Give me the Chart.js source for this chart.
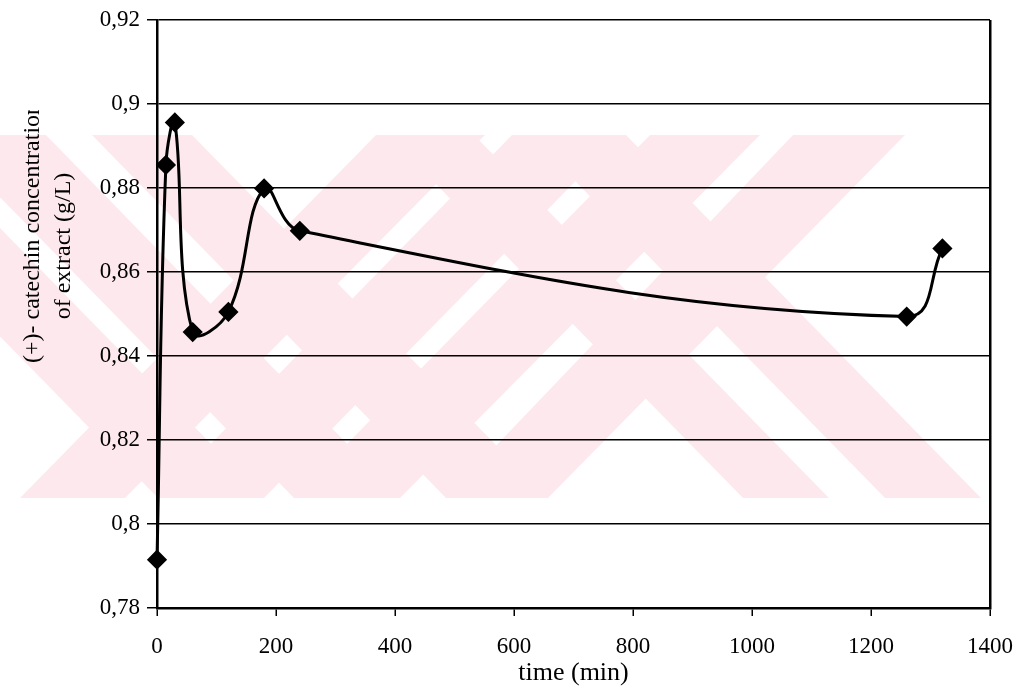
<!DOCTYPE html>
<html>
<head>
<meta charset="utf-8">
<script src="https://cdn.jsdelivr.net/npm/chart.js@4.4.0/dist/chart.umd.min.js"></script>
<style>
  html, body { margin: 0; padding: 0; background: #fff; }
  #wrap { width: 1021px; height: 688px; position: relative; }
</style>
</head>
<body>
<div id="wrap"><canvas id="chart" width="1021" height="688"></canvas></div>
<script>
// time (min) and (+)-catechin concentration (g/L)
const timeMin = [0, 15, 30, 60, 120, 180, 240, 1260, 1320];
const catechin = [0.7915, 0.8855, 0.8956, 0.8457, 0.8505, 0.8799, 0.8698, 0.8494, 0.8656];

const xTicks = [0, 200, 400, 600, 800, 1000, 1200, 1400];
const yTicks = [0.78, 0.8, 0.82, 0.84, 0.86, 0.88, 0.9, 0.92];

const yTitle = ["(+)- catechin concentration", "of extract (g/L)"];
const xTitle = "time (min)";

// pale pink watermark bands (page decoration): x of top-left, top-right at y 135, bottom-left, bottom-right at y 498
const wmTop = 135, wmBottom = 498;
const wmBands = [
  [376, 485, 20, 125],
  [512, 621, 158, 264],
  [650, 760, 294, 400],
  [793, 905, 446, 548],
  [-197, -91, 158, 264],
  [-61, 46, 294, 400],
  [92, 192, 446, 548],
  [388, 474, 743, 829],
  [530, 626, 885, 981],
];

const serif = "'Liberation Serif', 'Times New Roman', serif";

const watermark = {
  id: "watermark",
  beforeDraw(chart) {
    const ctx = chart.ctx;
    ctx.save();
    ctx.fillStyle = "#fde9ed";
    wmBands.forEach(([a, b, c, d]) => {
      ctx.beginPath();
      ctx.moveTo(a, wmTop);
      ctx.lineTo(b, wmTop);
      ctx.lineTo(d, wmBottom);
      ctx.lineTo(c, wmBottom);
      ctx.closePath();
      ctx.fill();
    });
    ctx.restore();
  },
};

const titles = {
  id: "titles",
  afterDraw(chart) {
    const ctx = chart.ctx;
    const area = chart.chartArea;
    ctx.save();
    ctx.fillStyle = "#000";
    // y title, rotated; first line cut off at the top like the original
    ctx.save();
    ctx.beginPath();
    ctx.rect(0, 110, 150, 600);
    ctx.clip();
    ctx.rotate(-Math.PI / 2);
    ctx.font = `24px ${serif}`;
    ctx.textBaseline = "middle";
    ctx.textAlign = "left";
    ctx.fillText(yTitle[0], -363, 33);
    ctx.textAlign = "center";
    ctx.fillText(yTitle[1], -246, 64);
    ctx.restore();
    // x title
    ctx.font = `26px ${serif}`;
    ctx.textAlign = "center";
    ctx.textBaseline = "alphabetic";
    ctx.fillText(xTitle, (area.left + area.right) / 2, 680);
    ctx.restore();
  },
};

function commaLabel(v) {
  return String(Number(v.toFixed(2))).replace(".", ",");
}

new Chart(document.getElementById("chart"), {
  type: "line",
  data: {
    datasets: [{
      data: timeMin.map((t, i) => ({ x: t, y: catechin[i] })),
      borderColor: "#000",
      backgroundColor: "#000",
      borderWidth: 3,
      tension: 0.4,
      pointStyle: "rectRot",
      pointRadius: 8,
      pointHoverRadius: 8,
      pointBackgroundColor: "#000",
      pointBorderColor: "#000",
      clip: false,
    }],
  },
  options: {
    responsive: false,
    animation: false,
    events: [],
    layout: { autoPadding: false, padding: { left: 0, top: 20, right: 31, bottom: 0 } },
    plugins: { legend: { display: false }, tooltip: { enabled: false } },
    scales: {
      x: {
        type: "linear",
        min: 0,
        max: 1400,
        afterBuildTicks: (s) => { s.ticks = xTicks.map((v) => ({ value: v })); },
        afterFit: (s) => { s.height = 80; s.paddingLeft = 0; s.paddingRight = 0; },
        ticks: {
          color: "#000",
          font: { family: serif, size: 23 },
          padding: 17,
          maxRotation: 0,
          callback: (v) => String(v),
        },
        grid: {
          color: (c) => (c.tick && c.tick.value === 1400 ? "#000" : "rgba(0,0,0,0)"),
          lineWidth: 2.5,
          tickColor: "#000",
          tickLength: 8,
          tickWidth: 1.5,
        },
        border: { display: true, color: "#000", width: 2.5 },
      },
      y: {
        min: 0.78,
        max: 0.92,
        afterBuildTicks: (s) => { s.ticks = yTicks.map((v) => ({ value: v })); },
        afterFit: (s) => { s.width = 157; s.paddingTop = 0; s.paddingBottom = 0; },
        ticks: {
          color: "#000",
          font: { family: serif, size: 23 },
          padding: 7,
          callback: (v) => commaLabel(v),
        },
        grid: {
          color: "#000",
          lineWidth: 1.5,
          tickLength: 10,
        },
        border: { display: true, color: "#000", width: 2.5 },
      },
    },
  },
  plugins: [watermark, titles],
});
</script>
</body>
</html>
